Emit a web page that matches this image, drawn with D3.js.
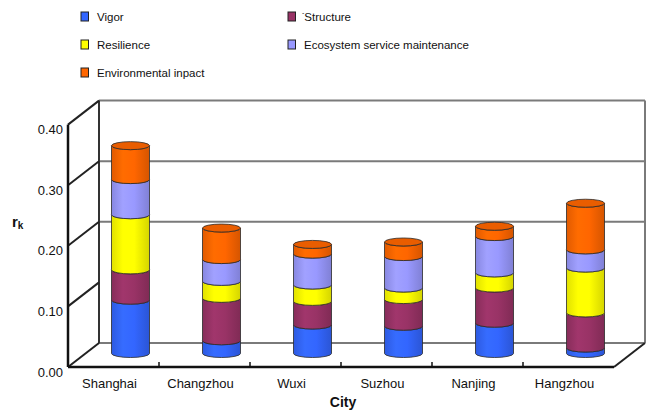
<!DOCTYPE html>
<html>
<head>
<meta charset="utf-8">
<script src="https://cdn.jsdelivr.net/npm/d3@7"></script>
<style>
  html, body { margin: 0; padding: 0; background: #fff; }
  svg { display: block; font-family: "Liberation Sans", Arial, sans-serif; }
</style>
</head>
<body>
<svg id="chart" width="647" height="411"></svg>
<script>
// Index values per city, one array per component (stacked bottom to top)
const cities = ["Shanghai", "Changzhou", "Wuxi", "Suzhou", "Nanjing", "Hangzhou"];
const vigor = [0.088, 0.021, 0.047, 0.045, 0.050, 0.009];
const structure = [0.050, 0.070, 0.039, 0.044, 0.058, 0.058];
const resilience = [0.091, 0.028, 0.027, 0.019, 0.025, 0.074];
const ecosystemService = [0.058, 0.036, 0.051, 0.052, 0.060, 0.030];
const environmentalImpact = [0.056, 0.052, 0.016, 0.024, 0.017, 0.077];
const yTicks = [0, 0.1, 0.2, 0.3, 0.4];
const seriesNames = ["Vigor", "Structure", "Resilience", "Ecosystem service maintenance", "Environmental inpact"];
const seriesColors = ["#3366FF", "#993366", "#FFFF00", "#9999FF", "#FF6600"];

const series = [vigor, structure, resilience, ecosystemService, environmentalImpact];

const svg = d3.select("#chart");

// Front plane scales; the back wall is the same plane shifted by the depth offset
const x = d3.scaleBand().domain(cities).range([68, 614]).paddingInner(0).paddingOuter(0);
const y = d3.scaleLinear().domain([0, 0.4]).range([367, 124.6]);
const DX = 31, DY = -24;          // depth of the box
const CX = 17, CY = -13.5;        // cylinders stand halfway in
const RX = 19, RY = 4;

const wall = svg.append("g");
// back wall gridlines and frame
const gridVals = [0, 0.2, 0.3, 0.4];
wall.selectAll("line.grid").data(gridVals).join("line")
  .attr("x1", x.range()[0] + DX).attr("x2", x.range()[1] + DX)
  .attr("y1", d => y(d) + DY).attr("y2", d => y(d) + DY)
  .attr("stroke", "#7a7a7a").attr("stroke-width", 2);
wall.append("line")
  .attr("x1", x.range()[1] + DX).attr("x2", x.range()[1] + DX)
  .attr("y1", y(0.4) + DY).attr("y2", y(0) + DY)
  .attr("stroke", "#7a7a7a").attr("stroke-width", 2);
wall.append("line")
  .attr("x1", x.range()[0] + DX).attr("x2", x.range()[0] + DX)
  .attr("y1", y(0.4) + DY).attr("y2", y(0) + DY)
  .attr("stroke", "#333").attr("stroke-width", 2);
// side wall diagonals
wall.selectAll("line.side").data(yTicks).join("line")
  .attr("x1", x.range()[0]).attr("x2", x.range()[0] + DX)
  .attr("y1", d => y(d)).attr("y2", d => y(d) + DY)
  .attr("stroke", "#222").attr("stroke-width", 2);
// floor right edge
wall.append("line")
  .attr("x1", x.range()[1]).attr("x2", x.range()[1] + DX)
  .attr("y1", y(0)).attr("y2", y(0) + DY)
  .attr("stroke", "#222").attr("stroke-width", 2);

// gradients for the cylinder sides
const defs = svg.append("defs");
seriesColors.forEach((c, i) => {
  const g = defs.append("linearGradient").attr("id", "grad" + i)
    .attr("x1", "0%").attr("x2", "100%").attr("y1", "0%").attr("y2", "0%");
  const base = d3.color(c);
  g.append("stop").attr("offset", "0%").attr("stop-color", base.darker(0.35));
  g.append("stop").attr("offset", "30%").attr("stop-color", base.brighter(0.15));
  g.append("stop").attr("offset", "60%").attr("stop-color", base);
  g.append("stop").attr("offset", "100%").attr("stop-color", base.darker(0.5));
});

// stacked cylinders
const stackData = cities.map((c, i) => {
  let acc = 0;
  return series.map((s, k) => {
    const v0 = acc; acc += s[i];
    return { city: c, k, v0, v1: acc };
  });
});

const bars = svg.append("g");
stackData.forEach((segs, ci) => {
  const cx = x(cities[ci]) + x.bandwidth() / 2 + CX;
  const g = bars.append("g");
  g.selectAll("path.seg").data(segs).join("path")
    .attr("d", d => {
      const yb = y(d.v0) + CY, yt = y(d.v1) + CY;
      return `M${cx - RX},${yt} L${cx - RX},${yb} A${RX},${RY} 0 0 0 ${cx + RX},${yb} ` +
             `L${cx + RX},${yt} A${RX},${RY} 0 0 1 ${cx - RX},${yt} Z`;
    })
    .attr("fill", d => `url(#grad${d.k})`)
    .attr("stroke", "#2a2a2a").attr("stroke-width", 0.8);
  const top = segs[segs.length - 1];
  g.append("ellipse")
    .attr("cx", cx).attr("cy", y(top.v1) + CY)
    .attr("rx", RX).attr("ry", RY)
    .attr("fill", d3.color(seriesColors[top.k]).darker(0.25))
    .attr("stroke", "#2a2a2a").attr("stroke-width", 0.8);
});

// front axis and floor edge
svg.append("line")
  .attr("x1", x.range()[0]).attr("x2", x.range()[0])
  .attr("y1", y(0.4)).attr("y2", y(0))
  .attr("stroke", "#111").attr("stroke-width", 2.5);
svg.append("line")
  .attr("x1", x.range()[0]).attr("x2", x.range()[1])
  .attr("y1", y(0)).attr("y2", y(0))
  .attr("stroke", "#111").attr("stroke-width", 2.5);
// category separators
svg.selectAll("line.sep").data(cities.slice(1)).join("line")
  .attr("x1", d => x(d)).attr("x2", d => x(d))
  .attr("y1", y(0) - 5).attr("y2", y(0))
  .attr("stroke", "#111").attr("stroke-width", 1.5);

// value axis labels
const yAxis = d3.axisLeft(y).tickValues(yTicks).tickFormat(d3.format(".2f")).tickSize(0).tickPadding(5);
const ya = svg.append("g").attr("transform", `translate(${x.range()[0]},5)`).call(yAxis);
ya.select(".domain").remove();
ya.selectAll("text").attr("font-size", 13).attr("fill", "#111")
  .attr("font-family", "Liberation Sans, Arial, sans-serif");

// category axis labels
const xAxis = d3.axisBottom(x).tickSize(0).tickPadding(12);
const xa = svg.append("g").attr("transform", `translate(-4,${y(0)})`).call(xAxis);
xa.select(".domain").remove();
xa.selectAll("text").attr("font-size", 13).attr("fill", "#111")
  .attr("font-family", "Liberation Sans, Arial, sans-serif");

// axis titles
const rt = svg.append("text").attr("x", 12).attr("y", 227)
  .attr("font-weight", "bold").attr("font-size", 15).attr("fill", "#111");
rt.append("tspan").text("r");
rt.append("tspan").attr("font-size", 10).attr("dy", 2).text("k");
svg.append("text").attr("x", 343).attr("y", 407).attr("text-anchor", "middle")
  .attr("font-weight", "bold").attr("font-size", 14).attr("fill", "#111").text("City");

// legend
const legendPos = [[81, 17], [288, 17], [81, 45], [288, 45], [81, 73]];
const lg = svg.append("g");
seriesNames.forEach((name, i) => {
  const [lx, ly] = legendPos[i];
  lg.append("rect").attr("x", lx).attr("y", ly - 5).attr("width", 7.5).attr("height", 9)
    .attr("fill", seriesColors[i]).attr("stroke", "#222").attr("stroke-width", 1);
  const t = lg.append("text").attr("x", lx + 16 + (i === 1 ? 3 : 0)).attr("y", ly + 4)
    .attr("font-size", 11.5).attr("fill", "#111");
  if (i === 1) {
    t.append("tspan").attr("font-size", 7).attr("dx", -5).attr("dy", -6).text("-");
    t.append("tspan").attr("dy", 6).text(name);
  } else {
    t.text(name);
  }
});
</script>
</body>
</html>
